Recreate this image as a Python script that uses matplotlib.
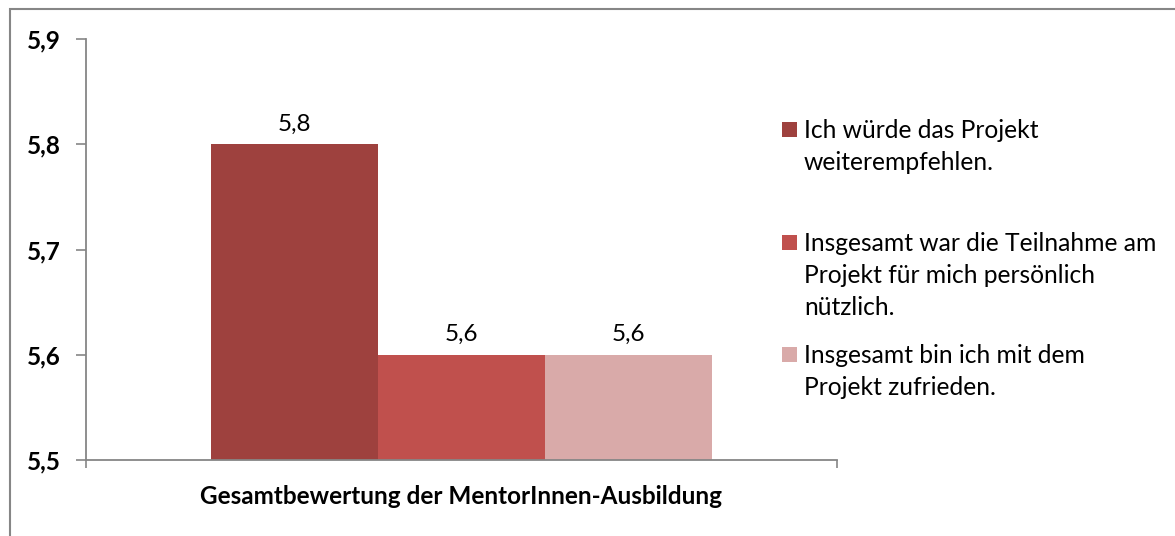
import matplotlib.pyplot as plt
from matplotlib.patches import Rectangle

plt.rcParams['font.family'] = ['Lato', 'DejaVu Sans']

category = ['Gesamtbewertung der MentorInnen-Ausbildung']
series = ['Ich würde das Projekt\nweiterempfehlen.',
          'Insgesamt war die Teilnahme am\nProjekt für mich persönlich\nnützlich.',
          'Insgesamt bin ich mit dem\nProjekt zufrieden.']
values = [5.8, 5.6, 5.6]
value_labels = ['5,8', '5,6', '5,6']
yticks = [5.5, 5.6, 5.7, 5.8, 5.9]
ytick_labels = ['5,5', '5,6', '5,7', '5,8', '5,9']
colors = ['#9E413E', '#C0504D', '#D9AAA9']
gray = '#868686'

W, H = 1175, 536
fig = plt.figure(figsize=(W / 100, H / 100), dpi=100)
ax = fig.add_axes([86 / W, 1 - 460 / H, 751 / W, 421 / H])

bw = 167 / 751
for i, (v, c) in enumerate(zip(values, colors)):
    bars = ax.bar((i - 1) * bw, v - 5.5, bottom=5.5, width=bw, color=c, linewidth=0)
    ax.bar_label(bars, labels=[value_labels[i]], padding=7, fontsize=17.5, color='black')

ax.set_xlim(-0.5, 0.5)
ax.set_ylim(5.5, 5.9)
ax.set_xticks([-0.5, 0.5], minor=True)
ax.tick_params(axis='x', which='major', length=0, pad=18)
ax.tick_params(axis='x', which='minor', length=6, width=1.2, color=gray, direction='out')
ax.tick_params(axis='y', length=7, width=1.2, color=gray, pad=11)
ax.set_yticks(yticks, ytick_labels, fontsize=17.5, fontweight='bold')
ax.set_xticks([0], category, fontsize=17.5, fontweight='bold')
for s in ['top', 'right']:
    ax.spines[s].set_visible(False)
for s in ['left', 'bottom']:
    ax.spines[s].set_color(gray)
    ax.spines[s].set_linewidth(1.3)

# legend drawn by hand so the square sits on the first line
first_lines = [138, 251, 363]
for lab, c, yb in zip(series, colors, first_lines):
    fig.add_artist(Rectangle((782 / W, 1 - (yb - 1) / H), 15 / W, 15 / H,
                             transform=fig.transFigure, color=c, linewidth=0))
    for k, line in enumerate(lab.split('\n')):
        fig.text(804 / W, 1 - (yb + 32 * k) / H, line, fontsize=17.7,
                 va='baseline', ha='left')

# outer chart frame (only top and left edge visible)
fig.add_artist(Rectangle((10 / W, -0.5), 2, 1.5 - 9 / H, transform=fig.transFigure,
                         fill=False, edgecolor=gray, linewidth=1.5))

fig.savefig('out.png', dpi=100)
